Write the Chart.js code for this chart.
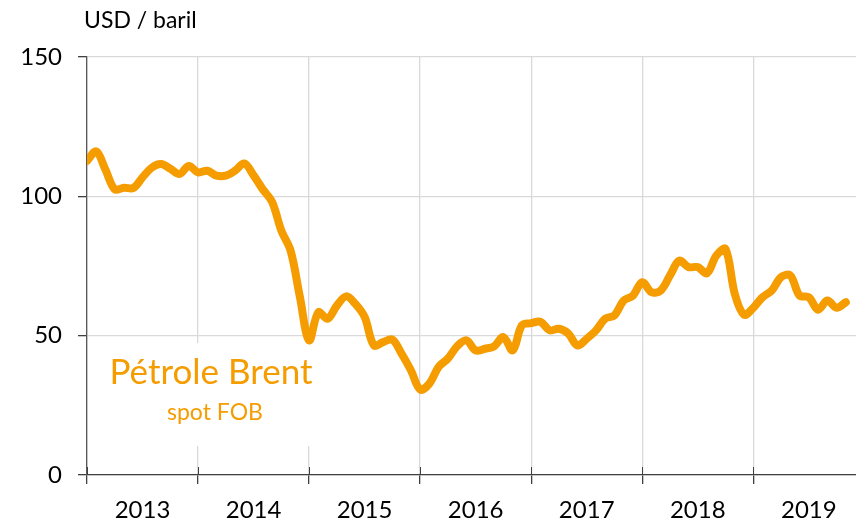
<!DOCTYPE html>
<html lang="fr">
<head>
  <meta charset="UTF-8">
  <title>Pétrole Brent</title>
  <script src="https://cdn.jsdelivr.net/npm/chart.js"></script>
  <style>
    body { margin: 0; padding: 0; background: #fff; }
    .chart-container { width: 856px; height: 522px; position: relative; }
  </style>
</head>
<body>
  <div class="chart-container">
    <canvas id="brentChart"></canvas>
  </div>

  <script>
    // Years shown on the x axis (one tick label per year, centred)
    const years = ['2013', '2014', '2015', '2016', '2017', '2018', '2019'];

    // Brent spot FOB, USD / baril, monthly from Jan 2013
    const brent2013 = [112.7, 116.1, 109.5, 102.5, 103.1, 103.0, 106.8, 110.3, 111.6, 109.9, 108.0, 110.9];
    const brent2014 = [108.6, 109.2, 107.4, 107.4, 109.2, 111.8, 107.5, 102.5, 98.0, 87.7, 80.5, 64.0];
    const brent2015 = [48.3, 58.4, 56.1, 60.8, 64.1, 61.4, 56.7, 46.5, 47.7, 48.6, 43.5, 37.6];
    const brent2016 = [30.7, 32.8, 38.8, 41.8, 46.2, 48.3, 44.7, 45.3, 46.2, 49.5, 44.7, 53.7];
    const brent2017 = [54.5, 55.0, 51.9, 52.5, 50.8, 46.5, 48.9, 51.9, 56.1, 57.3, 62.6, 64.4];
    const brent2018 = [69.2, 65.6, 66.2, 71.6, 76.9, 74.6, 74.6, 72.4, 78.7, 81.1, 65.0, 57.5];
    const brent2019 = [60.0, 63.8, 66.2, 71.0, 71.6, 64.4, 63.8, 59.3, 62.6, 60.0, 62.0];

    const yTicks = [0, 50, 100, 150];

    const brent = [].concat(brent2013, brent2014, brent2015, brent2016, brent2017, brent2018, brent2019);
    const points = brent.map((v, i) => ({ x: i, y: v }));

    const orange = '#F59C00';
    const gridGrey = '#d9d9d9';
    const axisDark = '#404040';
    const font = 'Lato, "Open Sans", sans-serif';

    // year boundaries (grid) and mid-year positions (labels)
    const xTickValues = [];
    years.forEach((y, i) => { xTickValues.push(i * 12, i * 12 + 6); });

    const isBoundary = v => v % 12 === 0;

    // Titles and the label box drawn on the canvas
    const textPlugin = {
      id: 'texts',
      beforeDatasetsDraw(chart) {
        const ctx = chart.ctx;
        const xs = chart.scales.x;
        const ys = chart.scales.y;
        ctx.save();
        // white box behind the series label, hides the grid lines
        ctx.fillStyle = '#fff';
        ctx.fillRect(100, 343, 220, 103);
        // small dark tick marks crossing the x axis
        ctx.strokeStyle = axisDark;
        ctx.lineWidth = 1;
        years.forEach((y, i) => {
          const px = Math.round(xs.getPixelForValue(i * 12)) + 0.5;
          ctx.beginPath();
          ctx.moveTo(px, ys.bottom - 8);
          ctx.lineTo(px, ys.bottom);
          ctx.stroke();
        });
        ctx.restore();
      },
      afterDraw(chart) {
        const ctx = chart.ctx;
        ctx.save();
        ctx.fillStyle = '#000';
        ctx.textAlign = 'left';
        ctx.textBaseline = 'alphabetic';
        ctx.font = '23px ' + font;
        ctx.fillText('USD / baril', 84, 28);
        ctx.fillStyle = orange;
        ctx.textAlign = 'center';
        ctx.font = '35px ' + font;
        ctx.fillText('Pétrole Brent', 211, 384);
        ctx.font = '23px ' + font;
        ctx.fillText('spot FOB', 215, 420);
        ctx.restore();
      }
    };

    const brentChart = new Chart(document.getElementById('brentChart'), {
      type: 'line',
      data: {
        datasets: [{
          label: 'Pétrole Brent',
          data: points,
          borderColor: orange,
          borderWidth: 8,
          pointRadius: 0,
          tension: 0.35,
          borderCapStyle: 'round',
          borderJoinStyle: 'round',
          clip: { left: 0, right: 0, top: false, bottom: false }
        }]
      },
      options: {
        responsive: true,
        maintainAspectRatio: false,
        animation: false,
        layout: { padding: { top: 57, left: 0, right: 0, bottom: 0 } },
        plugins: {
          legend: { display: false },
          tooltip: { enabled: false }
        },
        scales: {
          x: {
            type: 'linear',
            min: 0,
            max: 83.1,
            afterBuildTicks: scale => { scale.ticks = xTickValues.map(v => ({ value: v })); },
            afterFit: scale => { scale.height = 47; },
            ticks: {
              autoSkip: false,
              maxRotation: 0,
              padding: 12,
              color: '#000',
              font: { family: font, size: 24 },
              callback: v => isBoundary(v) ? '' : years[(v - 6) / 12]
            },
            grid: {
              color: ctx => (ctx.tick && isBoundary(ctx.tick.value)) ? gridGrey : 'rgba(0,0,0,0)',
              tickColor: ctx => (ctx.tick && isBoundary(ctx.tick.value)) ? axisDark : 'rgba(0,0,0,0)',
              tickLength: 9,
              lineWidth: 1.3
            },
            border: { color: axisDark, width: 1.3 }
          },
          y: {
            min: 0,
            max: 150,
            afterBuildTicks: scale => { scale.ticks = yTicks.map(v => ({ value: v })); },
            afterFit: scale => { scale.width = 87; },
            ticks: {
              padding: 16,
              color: '#000',
              font: { family: font, size: 24 }
            },
            grid: {
              color: gridGrey,
              tickColor: axisDark,
              tickLength: 9,
              lineWidth: 1.3
            },
            border: { color: '#595959', width: 1.3 }
          }
        }
      },
      plugins: [textPlugin]
    });
  </script>
</body>
</html>
